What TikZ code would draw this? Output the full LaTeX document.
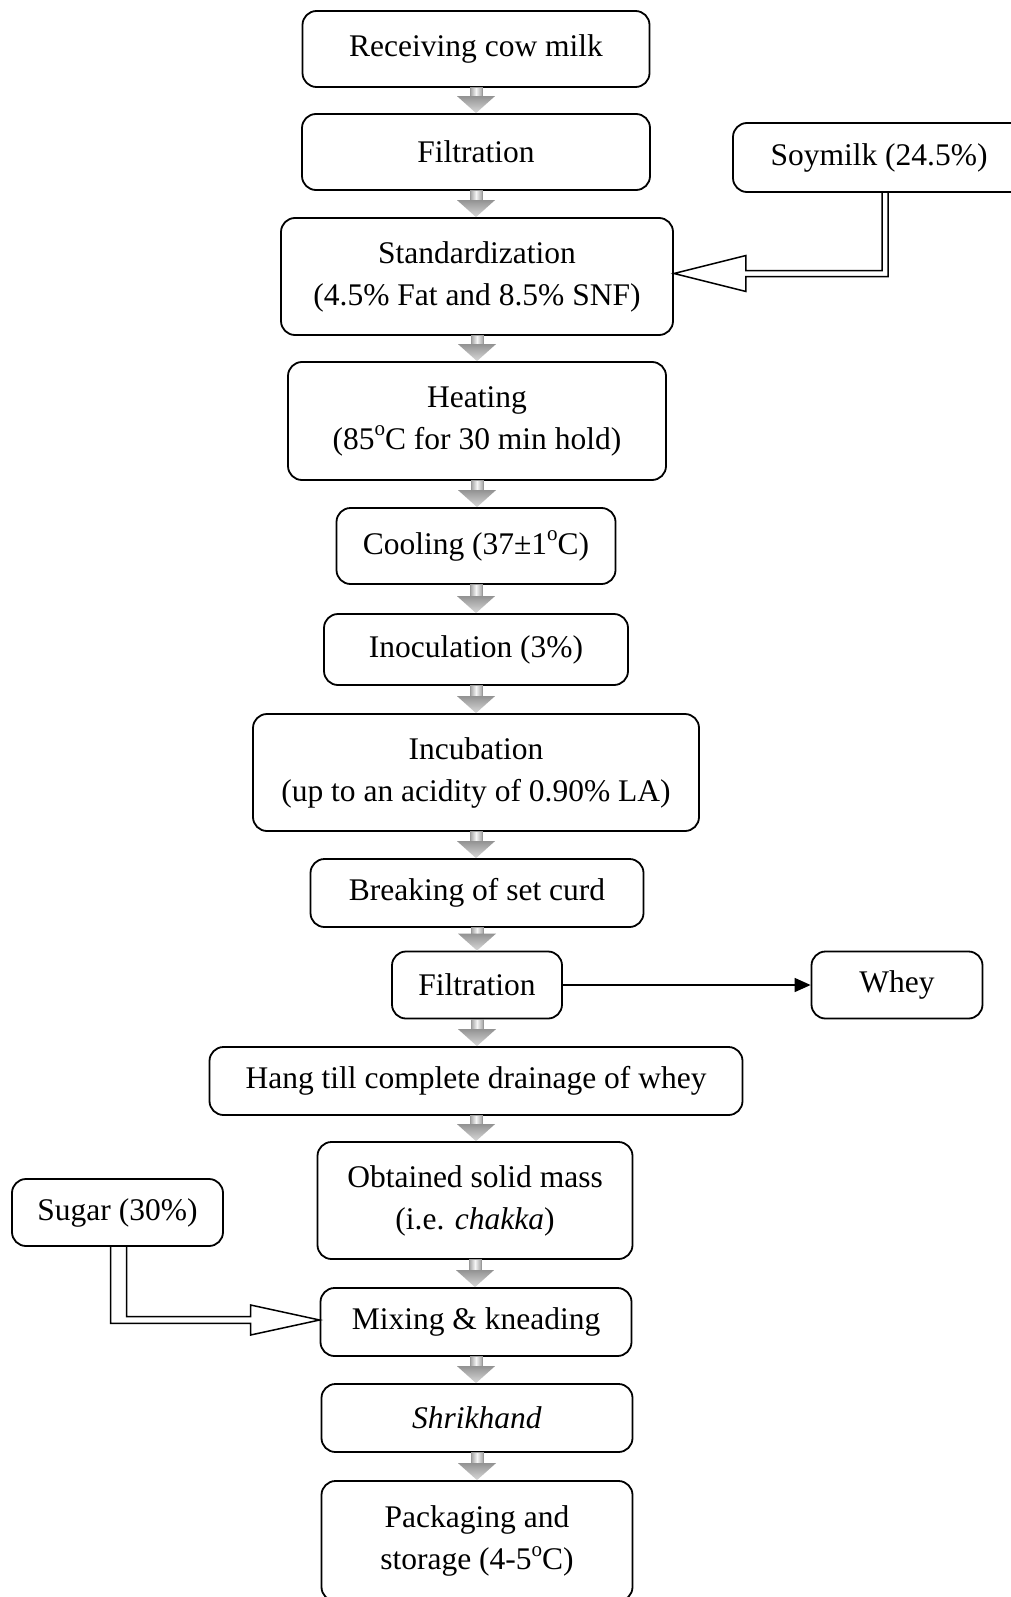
\documentclass[tikz,border=0pt]{standalone}
\usepackage{fontspec}
\setmainfont{Liberation Serif}
\usetikzlibrary{calc,arrows.meta}
\newcommand\boxfont{\fontsize{31.5}{42}\selectfont}
\newcommand\degsup{\raisebox{0.42em}{\fontsize{21}{21}\selectfont o}}
\tikzset{
  box/.style={draw, line width=1.8pt, rounded corners=14pt, align=center, inner sep=0pt, font=\boxfont},
  gshaft/.style={draw=gray!80, line width=1.0pt, left color=gray!75, right color=gray!70, middle color=gray!8},
  ghead/.style={top color=gray!85, bottom color=gray!30},
  hollow/.style={draw, line width=1.5pt, line join=miter}
}
\newcommand\garrow[2]{%
  \path (#1.south) coordinate (gA) (#2.north) coordinate (gB);
  \path[gshaft] ($(gA)+(-6,0)$) rectangle ($(gA |- gB)+(6,-16)$);
  \shade[ghead] ($(gA |- gB)+(-19,-17)$) -- ($(gA |- gB)+(19,-17)$) -- (gA |- gB) -- cycle;
}
\begin{document}
\begin{tikzpicture}[x=1pt,y=-1pt]
\useasboundingbox (0,0) rectangle (1011,1597);
\fill[white] (0,0) rectangle (1011,1597);
\clip (0,0) rectangle (1011,1597);

\node[box, minimum width=347pt, minimum height=76pt] (rcm) at (476,49) {Receiving cow milk};
\node[box, minimum width=348pt, minimum height=76pt] (filt1) at (476,152) {Filtration};
\node[box, minimum width=292pt, minimum height=69pt] (soy) at (879,157.5) {Soymilk (24.5\%)};
\node[box, minimum width=392pt, minimum height=117pt] (std) at (477,276.5) {Standardization\\(4.5\% Fat and 8.5\% SNF)};
\node[box, minimum width=378pt, minimum height=118pt] (heat) at (477,421) {Heating\\(85\degsup C for 30 min hold)};
\node[box, minimum width=279pt, minimum height=76pt] (cool) at (476,546) {Cooling (37±1\degsup C)};
\node[box, minimum width=304pt, minimum height=71pt] (inoc) at (476,649.5) {Inoculation (3\%)};
\node[box, minimum width=446pt, minimum height=117pt] (incub) at (476,772.5) {Incubation\\(up to an acidity of 0.90\% LA)};
\node[box, minimum width=333pt, minimum height=68pt] (brk) at (477,893) {Breaking of set curd};
\node[box, minimum width=170pt, minimum height=67pt] (filt2) at (477,985) {Filtration};
\node[box, minimum width=171pt, minimum height=67pt] (whey) at (897,985) {Whey};
\node[box, minimum width=533pt, minimum height=68pt] (hang) at (476,1081) {Hang till complete drainage of whey};
\node[box, minimum width=315pt, minimum height=117pt] (obt) at (475,1200.5) {Obtained solid mass\\(i.e. \textit{chakka})};
\node[box, minimum width=211pt, minimum height=67pt] (sugar) at (117.5,1212.5) {Sugar (30\%)};
\node[box, minimum width=311pt, minimum height=68pt] (mix) at (476,1322) {Mixing \& kneading};
\node[box, minimum width=311pt, minimum height=68pt] (shrik) at (477,1418) {\textit{Shrikhand}};
\node[box, minimum width=311pt, minimum height=120pt] (pack) at (477,1541) {Packaging and\\storage (4-5\degsup C)};

\garrow{rcm}{filt1}
\garrow{filt1}{std}
\garrow{std}{heat}
\garrow{heat}{cool}
\garrow{cool}{inoc}
\garrow{inoc}{incub}
\garrow{incub}{brk}
\garrow{brk}{filt2}
\garrow{filt2}{hang}
\garrow{hang}{obt}
\garrow{obt}{mix}
\garrow{mix}{shrik}
\garrow{shrik}{pack}

% soymilk hollow arrow
\coordinate (T1) at ($(std.east)+(0,-3)$);
\draw[hollow] ($(soy.south)+(3,0)$) |- ($(T1)+(72,-3)$) -- ($(T1)+(72,-18)$) -- (T1)
  -- ($(T1)+(72,18)$) -- ($(T1)+(72,3)$) -| ($(soy.south)+(9,0)$);

% sugar hollow arrow
\coordinate (T2) at ($(mix.west)+(0,-2)$);
\draw[hollow] ($(sugar.south)+(9,0)$) |- ($(T2)+(-69,-3.3)$) -- ($(T2)+(-69,-15)$) -- (T2)
  -- ($(T2)+(-69,15)$) -- ($(T2)+(-69,3.3)$) -| ($(sugar.south)+(-7,0)$);

% whey arrow
\draw[line width=1.6pt, -{Triangle[length=16pt,width=14pt]}] (filt2.east) -- (whey.west);
\end{tikzpicture}
\end{document}
